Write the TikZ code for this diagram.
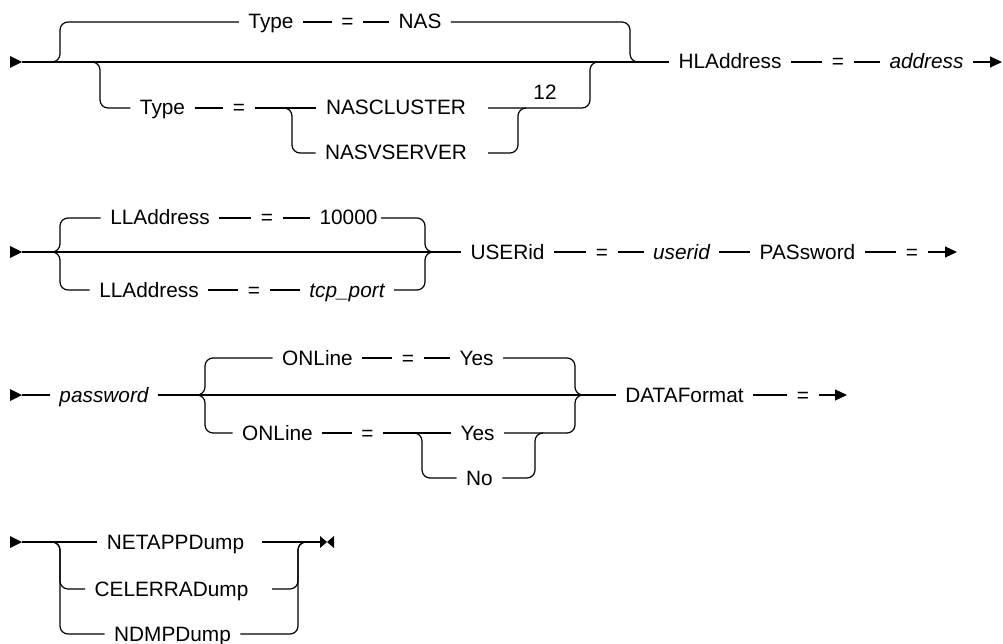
\documentclass[tikz,border=0pt]{standalone}
\usepackage{fontspec}
\setmainfont{Liberation Sans}
\usetikzlibrary{arrows.meta}

\begin{document}
\begin{tikzpicture}[x=1pt, y=-1pt, >={Triangle[length=12pt,width=11pt]}, line width=1.2pt, line join=round,
  kw/.style={inner xsep=9pt, inner ysep=0pt, text height=14pt, text depth=0pt, font=\fontsize{20.8}{24}\selectfont},
  var/.style={kw, font=\fontsize{20.8}{24}\selectfont\itshape},
  railbend/.style={rounded corners=8pt}]
  \useasboundingbox (0,0) rectangle (1003,644);

  % row 1: Type / HLAddress
  \coordinate (S1) at (22,62);
  \coordinate (A1) at (60,62);
  \coordinate (B1) at (100,62);
  \coordinate (C1) at (630,62);
  \coordinate (D1) at (292,108);
  \coordinate (F1) at (590,62);
  \coordinate (G1) at (518,108);
  \coordinate (NCLe) at (488,108);
  \coordinate (NVSe) at (488,153);
  \coordinate (Z1) at (1002,62);
  \node[kw] (T1) at (271,22) {Type};
  \node[kw] (E1) at (347.5,22) {=};
  \node[kw] (NAS) at (420,22) {NAS};
  \node[kw] (T2) at (162.5,108) {Type};
  \node[kw] (E2) at (239,108) {=};
  \node[kw] (NCL) at (396,108) {NASCLUSTER};
  \node[kw] (NVS) at (396,153) {NASVSERVER};
  \node[kw] (N12) at (545,93) {12};
  \node[kw] (HLA) at (730,62) {HLAddress};
  \node[kw] (E3) at (838,62) {=};
  \node[var] (ADR) at (926.5,62) {address};
  \draw (S1) -- (HLA);
  \draw[railbend] ([xshift=-8pt]A1) -- (A1) |- (T1);
  \draw (T1) -- (E1) -- (NAS);
  \draw[railbend] (NAS) -| (C1) -- ([xshift=8pt]C1);
  \draw[railbend] ([xshift=-8pt]B1) -- (B1) |- (T2);
  \draw (T2) -- (E2) -- (NCL);
  \draw[railbend] ([xshift=-8pt]D1) -- (D1) |- (NVS);
  \draw[railbend] (NCLe) -| (F1) -- ([xshift=8pt]F1);
  \draw[railbend] (NVSe) -| (G1) -- ([xshift=8pt]G1);
  \draw (HLA) -- (E3) -- (ADR);
  \draw[->] (ADR) -- (Z1);

  % row 2: LLAddress / USERid / PASsword
  \coordinate (S2) at (22,252);
  \coordinate (A2) at (60,252);
  \coordinate (C2) at (425,252);
  \coordinate (NUMe) at (381,218);
  \coordinate (Z2) at (957,252);
  \node[kw] (LL1) at (160,218) {LLAddress};
  \node[kw] (E4) at (267,218) {=};
  \node[kw] (NUM) at (348.5,218) {10000};
  \node[kw] (LL2) at (149,290) {LLAddress};
  \node[kw] (E5) at (254,290) {=};
  \node[var] (TCP) at (347,290) {tcp\_port};
  \node[kw] (USR) at (507.5,252) {USERid};
  \node[kw] (E6) at (602,252) {=};
  \node[var] (UID) at (681.5,252) {userid};
  \node[kw] (PWD) at (807.5,252) {PASsword};
  \node[kw] (E7) at (912,252) {=};
  \draw (S2) -- (USR);
  \draw[railbend] ([xshift=-8pt]A2) -- (A2) |- (LL1);
  \draw[railbend] ([xshift=-8pt]A2) -- (A2) |- (LL2);
  \draw (LL1) -- (E4) -- (NUM);
  \draw[railbend] (NUMe) -| (C2) -- ([xshift=8pt]C2);
  \draw (LL2) -- (E5) -- (TCP);
  \draw[railbend] (TCP) -| (C2) -- ([xshift=8pt]C2);
  \draw (USR) -- (E6) -- (UID) -- (PWD) -- (E7);
  \draw[->] (E7) -- (Z2);

  % row 3: password / ONLine / DATAFormat
  \coordinate (S3) at (22,395);
  \coordinate (A3) at (205,395);
  \coordinate (C3) at (575,395);
  \coordinate (D3) at (422,433);
  \coordinate (G3) at (535,433);
  \coordinate (Z3) at (847,395);
  \node[var] (PW) at (104,395) {password};
  \node[kw] (ON1) at (317.5,358) {ONLine};
  \node[kw] (E8) at (408,358) {=};
  \node[kw] (Y1) at (476.5,358) {Yes};
  \node[kw] (ON2) at (277.5,433) {ONLine};
  \node[kw] (E9) at (367.5,433) {=};
  \node[kw] (Y2) at (477.5,433) {Yes};
  \node[kw] (NO) at (479.5,478) {No};
  \node[kw] (DF) at (684.5,395) {DATAFormat};
  \node[kw] (E10) at (803,395) {=};
  \draw (S3) -- (PW);
  \draw (PW) -- (DF);
  \draw[railbend] ([xshift=-8pt]A3) -- (A3) |- (ON1);
  \draw[railbend] ([xshift=-8pt]A3) -- (A3) |- (ON2);
  \draw (ON1) -- (E8) -- (Y1);
  \draw[railbend] (Y1) -| (C3) -- ([xshift=8pt]C3);
  \draw (ON2) -- (E9) -- (Y2);
  \draw[railbend] ([xshift=-8pt]D3) -- (D3) |- (NO);
  \draw[railbend] (Y2) -| (C3) -- ([xshift=8pt]C3);
  \draw[railbend] (NO) -| (G3) -- ([xshift=8pt]G3);
  \draw (DF) -- (E10);
  \draw[->] (E10) -- (Z3);

  % row 4: dump formats
  \coordinate (S4) at (22,542);
  \coordinate (A4) at (60,542);
  \coordinate (C4) at (298,542);
  \coordinate (NDe) at (262,542);
  \coordinate (CEe) at (272,589);
  \coordinate (Z4) at (320,542);
  \node[kw] (ND) at (175.5,542) {NETAPPDump};
  \node[kw] (CE) at (171.5,589) {CELERRADump};
  \node[kw] (NM) at (172.5,634) {NDMPDump};
  \draw (S4) -- (ND);
  \draw[railbend] ([xshift=-8pt]A4) -- (A4) |- (CE);
  \draw[railbend] ([xshift=-8pt]A4) -- (A4) |- (NM);
  \draw (NDe) -- (Z4);
  \draw[railbend] (CEe) -| (C4) -- ([xshift=8pt]C4);
  \draw[railbend] (NM) -| (C4) -- ([xshift=8pt]C4);
  \fill (Z4) -- ++(0,-6) -- ++(7,6) -- ++(-7,6) -- cycle;
  \fill ([xshift=14pt]Z4) -- ++(0,-6) -- ++(-7,6) -- ++(7,6) -- cycle;

  % start marks
  \foreach \s in {S1,S2,S3,S4}
    \fill ([xshift=-12pt]\s) -- ++(0,-6) -- ++(12,6) -- ++(-12,6) -- cycle;
\end{tikzpicture}
\end{document}
